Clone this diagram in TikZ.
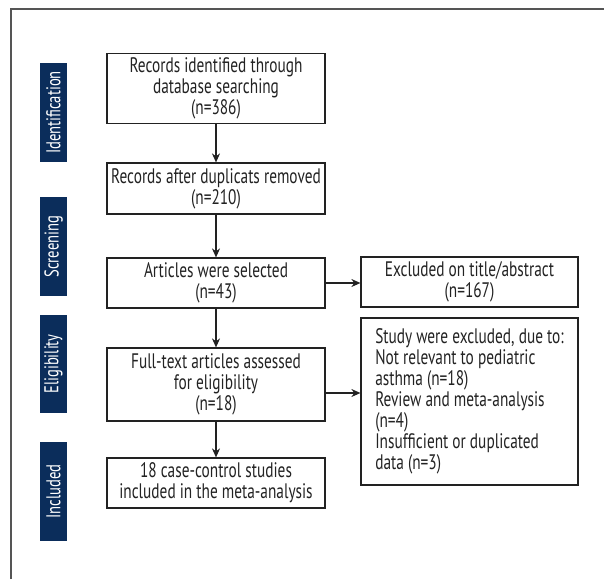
\documentclass[tikz,border=0pt]{standalone}
\usepackage{fontspec}
\setmainfont[FakeStretch=0.73]{PT Sans}
\usetikzlibrary{arrows.meta,calc}
\definecolor{navy}{HTML}{0B2D5B}
\definecolor{ink}{HTML}{222222}
\definecolor{framec}{HTML}{555555}
\begin{document}
\begin{tikzpicture}[x=1pt,y=-1pt,
  box/.style={draw=ink,line width=1.2pt,text=ink,align=center,inner sep=2pt,
    font=\fontsize{21}{21}\selectfont},
  side/.style={fill=navy,text=white,rotate=90,inner sep=0pt,
    font=\fontsize{20}{20}\selectfont},
  arr/.style={draw=ink,line width=1.2pt,-{Stealth[length=9pt,width=8pt]}}]
\useasboundingbox (0,0) rectangle (604,579);
\draw[framec,line width=1.2pt] (11,579) -- (11,9) -- (604,9);
% side labels
\node[side,minimum width=99pt,minimum height=27pt] (sid) at (53.5,112.5) {Identification};
\node[side,minimum width=99pt,minimum height=27pt] (ssc) at (53.5,246.5) {Screening};
\node[side,minimum width=98pt,minimum height=27pt] (sel) at (53.5,364) {Eligibility};
\node[side,minimum width=99pt,minimum height=27pt] (sin) at (53.5,491.5) {Included};
% main boxes
\node[box,minimum width=218pt,minimum height=70pt] (b1) at (216,88.5) {Records identified through\\database searching\\(n=386)};
\node[box,minimum width=218pt,minimum height=51pt] (b2) at (216,188.5) {Records after duplicats removed\\(n=210)};
\node[box,minimum width=218pt,minimum height=50pt] (b3) at (216,283) {Articles were selected\\(n=43)};
\node[box,minimum width=218pt,minimum height=73pt] (b4) at (216,384.5) {Full-text articles assessed\\for eligibility\\(n=18)};
\node[box,minimum width=218pt,minimum height=50pt] (b5) at (216,483) {18 case-control studies\\included in the meta-analysis};
\node[box,minimum width=217pt,minimum height=50pt] (e1) at (469.5,282) {Excluded on title/abstract\\(n=167)};
\node[box,minimum width=217pt,minimum height=167pt,align=left] (e2) at (469.5,401.5) {Study were excluded, due to:\\Not relevant to pediatric\\asthma (n=18)\\Review and meta-analysis\\(n=4)\\Insufficient or duplicated\\data (n=3)};
% arrows
\draw[arr] (b1) -- (b2);
\draw[arr] (b2) -- (b3);
\draw[arr] (b3) -- (b4);
\draw[arr] (b4) -- (b5);
\draw[arr] (b3.east) -- (b3.east -| e1.west);
\draw[arr] ([yshift=-8.5pt]b4.east) -- ([yshift=-8.5pt]b4.east -| e2.west);
\end{tikzpicture}
\end{document}
